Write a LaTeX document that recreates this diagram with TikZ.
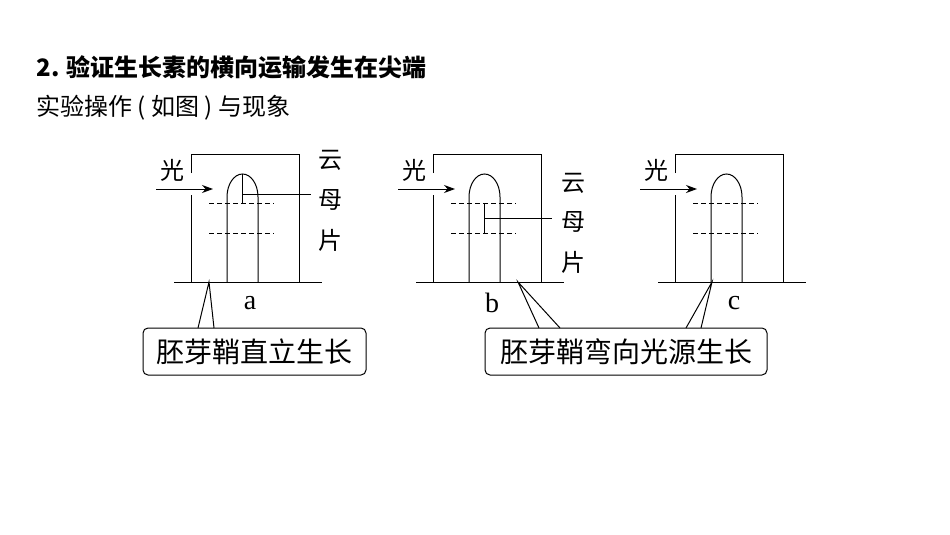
\documentclass[tikz,border=0pt]{standalone}
\usepackage{fontspec}
\usetikzlibrary{arrows.meta}
\newfontfamily\cjk{Noto Sans CJK SC}
\setmainfont{Liberation Serif}
\begin{document}
\begin{tikzpicture}[x=1pt,y=-1pt,line width=1pt,
  lbl/.style={inner sep=0pt,font=\cjk\fontsize{24}{24}\selectfont},
  tag/.style={draw,rounded corners=5pt,inner sep=3pt,minimum height=47pt,font=\cjk\fontsize{28}{28}\selectfont},
  dsh/.style={dashed,dash pattern=on 5pt off 3pt,line width=0.9pt}]
\useasboundingbox (0,0) rectangle (950,535);
\node[anchor=west,inner sep=0pt,font=\cjk\bfseries\fontsize{24}{24}\selectfont] (t1) at (36,67) {2. 验证生长素的横向运输发生在尖端};
\node[anchor=west,inner sep=0pt,font=\cjk\fontsize{24}{24}\selectfont] (t2) at (36,108) {实验操作 ( 如图 ) 与现象};
\foreach \o/\n in {0/a,242/b,484/c}{
  \begin{scope}[xshift=\o]
  \draw (174,282) -- (322,282);
  \draw (191,173) -- (191,154) -- (299,154) -- (299,282);
  \draw (191,195) -- (191,282);
  \draw (227,282) -- (227,197) arc[start angle=180,end angle=360,x radius=15.5,y radius=23] -- (258,282);
  \draw[dsh] (209,203) -- (274,203);
  \draw[dsh] (209,233) -- (274,233);
  \node[lbl] (g\n) at (172,170) {光};
  \coordinate (as\n) at (156,189);
  \coordinate (ae\n) at (213,189);
  \draw[-{Stealth[length=11pt,width=8pt]}] (as\n) -- (ae\n);
  \node[inner sep=0pt,font=\fontsize{28}{28}\selectfont] (l\n) at (250,303) {\n};
  \end{scope}
}
% mica a
\draw (242,174) -- (242,203);
\draw (242,194) -- (311,194);
\node[lbl] (ya) at (330,160) {云};
\node[lbl] (ma) at (330,200) {母};
\node[lbl] (pa) at (330,240) {片};
% mica b
\draw (484,203) -- (484,233);
\draw (484,218) -- (552,218);
\node[lbl] (yb) at (573,183) {云};
\node[lbl] (mb) at (573,222) {母};
\node[lbl] (pb) at (573,262) {片};
% tags
\node[tag,minimum width=223pt] (k1) at (254.5,351.5) {胚芽鞘直立生长};
\node[tag,minimum width=282pt] (k2) at (626,351.5) {胚芽鞘弯向光源生长};
\draw (198,328) -- (209,282) -- (214,328);
\draw (539,328) -- (518,282) -- (560,328);
\draw (686,328) -- (712,282) -- (701,328);
\end{tikzpicture}
\end{document}
